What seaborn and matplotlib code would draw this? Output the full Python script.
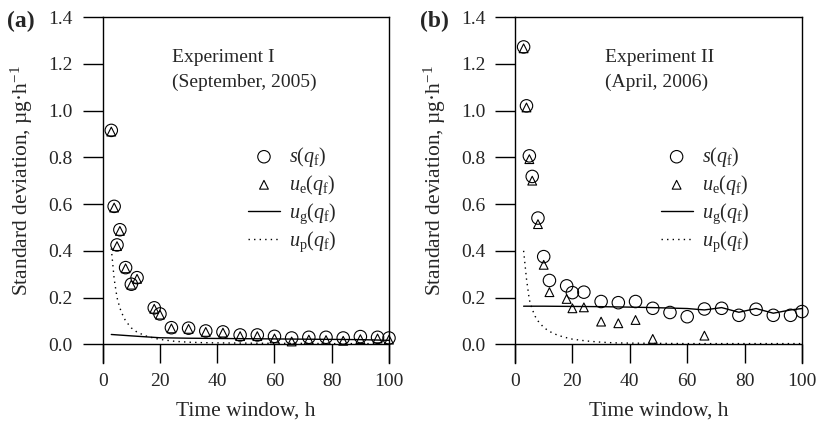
import numpy as np
import pandas as pd
import seaborn as sns
import matplotlib
matplotlib.use("Agg")
import matplotlib.pyplot as plt

# ---------------- data ----------------
# Experiment I (panel a)
a_x = [3, 4, 5, 6, 8, 10, 12, 18, 20, 24, 30, 36, 42, 48, 54, 60, 66, 72, 78, 84, 90, 96, 100]
a_s = [0.915, 0.59, 0.425, 0.49, 0.328, 0.257, 0.285, 0.156, 0.13, 0.071, 0.069, 0.057, 0.053,
       0.04, 0.04, 0.034, 0.027, 0.03, 0.03, 0.027, 0.033, 0.03, 0.027]
a_ue = [0.91, 0.585, 0.42, 0.485, 0.325, 0.255, 0.28, 0.152, 0.127, 0.068, 0.066, 0.053, 0.05,
        0.035, 0.035, 0.025, 0.012, 0.02, 0.018, 0.015, 0.022, 0.025, 0.02]
a_ug_x = [3, 10, 20, 30, 40, 50, 60, 70, 80, 90, 100]
a_ug = [0.042, 0.036, 0.028, 0.026, 0.025, 0.024, 0.023, 0.022, 0.021, 0.02, 0.017]
a_up_x = [3, 4, 5, 6, 7, 8, 10, 12, 15, 18, 20, 25, 30, 35, 40, 50, 60, 70, 80, 90, 100]
a_up = [0.41, 0.28, 0.2, 0.155, 0.125, 0.1, 0.07, 0.052, 0.036, 0.026, 0.021, 0.013, 0.009,
        0.007, 0.006, 0.005, 0.004, 0.004, 0.003, 0.003, 0.003]

# Experiment II (panel b)
b_x = [3, 4, 5, 6, 8, 10, 12, 18, 20, 24, 30, 36, 42, 48, 54, 60, 66, 72, 78, 84, 90, 96, 100]
b_s = [1.272, 1.02, 0.806, 0.718, 0.54, 0.375, 0.273, 0.25, 0.221, 0.223, 0.183, 0.178, 0.183,
       0.154, 0.136, 0.118, 0.151, 0.154, 0.124, 0.15, 0.124, 0.124, 0.14]
b_ue_x = [3, 4, 5, 6, 8, 10, 12, 18, 20, 24, 30, 36, 42, 48, 66]
b_ue = [1.266, 1.013, 0.792, 0.70, 0.514, 0.34, 0.223, 0.194, 0.154, 0.158, 0.097, 0.09, 0.104,
        0.023, 0.037]
b_ug_x = [3, 10, 20, 30, 40, 48, 54, 60, 66, 72, 78, 84, 90, 96, 100]
b_ug = [0.163, 0.163, 0.162, 0.161, 0.159, 0.157, 0.155, 0.153, 0.147, 0.157, 0.137, 0.153,
        0.133, 0.147, 0.153]
b_up_x = [3, 4, 5, 6, 7, 8, 10, 12, 15, 18, 20, 25, 30, 35, 40, 50, 60, 70, 80, 90, 100]
b_up = [0.40, 0.28, 0.19, 0.15, 0.12, 0.1, 0.072, 0.055, 0.038, 0.028, 0.022, 0.014, 0.009,
        0.006, 0.005, 0.004, 0.003, 0.003, 0.003, 0.003, 0.003]

x_ticks = [0, 20, 40, 60, 80, 100]
y_ticks = [0.0, 0.2, 0.4, 0.6, 0.8, 1.0, 1.2, 1.4]
y_tick_labels = ["0.0", "0.2", "0.4", "0.6", "0.8", "1.0", "1.2", "1.4"]

labels = [r"$s(q_\mathrm{f})$", r"$u_\mathrm{e}(q_\mathrm{f})$",
          r"$u_\mathrm{g}(q_\mathrm{f})$", r"$u_\mathrm{p}(q_\mathrm{f})$"]

# ---------------- style ----------------
sns.set_style("white")
plt.rcParams["font.family"] = ["Liberation Serif", "DejaVu Serif"]
plt.rcParams["mathtext.fontset"] = "custom"
plt.rcParams["mathtext.rm"] = "Liberation Serif"
plt.rcParams["mathtext.it"] = "Liberation Serif:italic"
plt.rcParams["mathtext.bf"] = "Liberation Serif:bold"
plt.rcParams["axes.unicode_minus"] = True

fig = plt.figure(figsize=(8.16, 4.23), dpi=100)
ax_a = fig.add_axes([102.7 / 816, 60 / 423, 286.3 / 816, 346 / 423])
ax_b = fig.add_axes([515 / 816, 60 / 423, 287 / 816, 346 / 423])

panels = [
    (ax_a, a_x, a_s, a_x, a_ue, a_ug_x, a_ug, a_up_x, a_up,
     ["Experiment I", "(September, 2005)"], 0.242, -0.236, "(a)", 7),
    (ax_b, b_x, b_s, b_ue_x, b_ue, b_ug_x, b_ug, b_up_x, b_up,
     ["Experiment II", "(April, 2006)"], 0.314, -0.233, "(b)", 420),
]

for (ax, sx, sy, ex, ey, gx, gy, px, py, ann, annx, ylx, plab, plabx) in panels:
    sns.scatterplot(x=sx, y=sy, marker="o", s=80, facecolor="none", edgecolor="black",
                    linewidth=0.8, ax=ax, label=labels[0], clip_on=False, zorder=3)
    sns.scatterplot(x=ex, y=ey, marker="^", s=40, facecolor="none", edgecolor="black",
                    linewidth=0.8, ax=ax, label=labels[1], clip_on=False, zorder=3)
    sns.lineplot(x=gx, y=gy, color="black", linewidth=1.0, ax=ax, label=labels[2],
                 estimator=None, sort=False)
    sns.lineplot(x=px, y=py, color="black", linewidth=1.0, linestyle=(0, (1, 3)), ax=ax,
                 label=labels[3], estimator=None, sort=False)

    ax.set_xlim(0, 100)
    ax.set_ylim(-0.080, 1.4)
    ax.axhline(0, color="black", linewidth=1.0, zorder=1)
    for side in ["left", "right", "top"]:
        ax.spines[side].set_visible(True)
        ax.spines[side].set_color("black")
        ax.spines[side].set_linewidth(1.0)
    ax.spines["bottom"].set_visible(False)

    ax.set_xticks(x_ticks)
    ax.set_xticklabels([str(v) for v in x_ticks])
    ax.set_yticks(y_ticks)
    ax.set_yticklabels(y_tick_labels)
    ax.tick_params(axis="x", direction="in", length=13.7, width=1.0, pad=7,
                   labelsize=14, bottom=True, top=False, color="black")
    ax.tick_params(axis="y", direction="out", length=14.4, width=1.0, pad=7,
                   labelsize=14, left=True, right=False, color="black")

    ax.set_xlabel("Time window, h", fontsize=15.5)
    ax.xaxis.set_label_coords(0.5, -0.11)
    ax.set_ylabel("Standard deviation, µg·h$^{-1}$", fontsize=15.5)
    ax.yaxis.set_label_coords(ylx, 0.526)

    ax.text(annx, 0.884, ann[0], transform=ax.transAxes, fontsize=14, va="center", ha="left")
    ax.text(annx, 0.812, ann[1], transform=ax.transAxes, fontsize=14, va="center", ha="left")

    leg = ax.legend(loc="upper left", bbox_to_anchor=(0.507, 0.63), frameon=False,
                    fontsize=14.5, borderpad=0, borderaxespad=0, handlelength=1.6,
                    handletextpad=0.45, labelspacing=0.2)

    fig.text(plabx / 816, 1 - 21 / 423, plab, fontsize=17, fontweight="bold",
             ha="left", va="center")

fig.savefig("out.png", dpi=100)
